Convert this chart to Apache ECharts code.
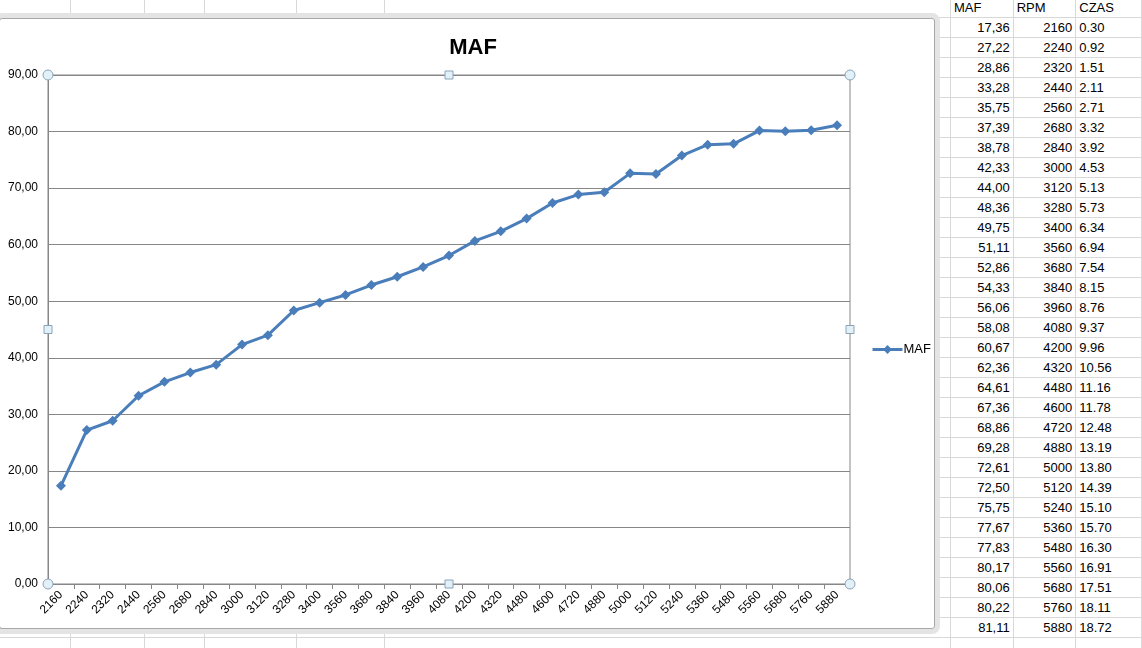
<!DOCTYPE html>
<html>
<head>
<meta charset="utf-8">
<script src="https://cdn.jsdelivr.net/npm/echarts@6/dist/echarts.min.js"></script>
<style>
  html, body { margin: 0; padding: 0; background: #fff; }
  #page { position: relative; width: 1142px; height: 648px; overflow: hidden;
    font-family: "Liberation Sans", Arial, sans-serif;
    background-image:
      repeating-linear-gradient(to bottom, transparent 0, transparent 17px, #d8d8d8 17px, #d8d8d8 18px, transparent 18px, transparent 20px);
    background-position: 0 0;
  }
  .vline { position: absolute; top: 0; width: 1px; height: 648px; background: #d8d8d8; }
  #frame { position: absolute; left: -6px; top: 13px; width: 946px; height: 621px;
    box-sizing: border-box; border: 5px solid #e4e4e4; border-radius: 8px;
    box-shadow: inset 0 0 0 1px #a8a8a8; background: #fff; }
  #chart { position: absolute; left: 0; top: 0; width: 1142px; height: 648px; }
  #sheet { position: absolute; left: 950px; top: -3px; border-collapse: collapse; font-size: 13px; color: #000; }
  #sheet td { height: 19px; padding: 0 3px; border: 1px solid #d8d8d8; white-space: nowrap; }
  #sheet td.n { text-align: right; }
  #sheet td.c1 { width: 57px; }
  #sheet td.c2 { width: 57px; }
  #sheet td.c3 { width: 60px; }
</style>
</head>
<body>
<div id="page">
  <div class="vline" style="left:70px"></div>
  <div class="vline" style="left:144px"></div>
  <div class="vline" style="left:204px"></div>
  <div class="vline" style="left:296px"></div>
  <div class="vline" style="left:384px"></div>
  <div class="vline" style="left:950px"></div>
  <div id="frame"></div>
  <table id="sheet"></table>
  <div id="chart"></div>
</div>
<script>
// dane z arkusza
var maf = [17.36, 27.22, 28.86, 33.28, 35.75, 37.39, 38.78, 42.33, 44.00, 48.36,
  49.75, 51.11, 52.86, 54.33, 56.06, 58.08, 60.67, 62.36, 64.61, 67.36,
  68.86, 69.28, 72.61, 72.50, 75.75, 77.67, 77.83, 80.17, 80.06, 80.22, 81.11];
var rpm = ['2160', '2240', '2320', '2440', '2560', '2680', '2840', '3000', '3120', '3280',
  '3400', '3560', '3680', '3840', '3960', '4080', '4200', '4320', '4480', '4600',
  '4720', '4880', '5000', '5120', '5240', '5360', '5480', '5560', '5680', '5760', '5880'];
var czas = ['0.30', '0.92', '1.51', '2.11', '2.71', '3.32', '3.92', '4.53', '5.13', '5.73',
  '6.34', '6.94', '7.54', '8.15', '8.76', '9.37', '9.96', '10.56', '11.16', '11.78',
  '12.48', '13.19', '13.80', '14.39', '15.10', '15.70', '16.30', '16.91', '17.51', '18.11', '18.72'];
var headers = ['MAF', 'RPM', 'CZAS'];

function fmt(v) {
  return v.toFixed(2).replace('.', ',');
}

// tabela po prawej
var html = '<tr><td class="c1">' + headers[0] + '</td><td class="c2">' + headers[1] +
  '</td><td class="c3">' + headers[2] + '</td></tr>';
for (var i = 0; i < maf.length; i++) {
  html += '<tr><td class="n c1">' + fmt(maf[i]) + '</td><td class="n c2">' + rpm[i] +
    '</td><td class="c3">' + czas[i] + '</td></tr>';
}
html += '<tr><td class="c1">&nbsp;</td><td class="c2"></td><td class="c3"></td></tr>';
document.getElementById('sheet').innerHTML = html;

// wykres
var gLeft = 48, gTop = 75, gRight = 850, gBottom = 584;
var myChart = echarts.init(document.getElementById('chart'));
var option = {
  animation: false,
  textStyle: { fontFamily: '"Liberation Sans", Arial, sans-serif' },
  title: {
    text: 'MAF',
    left: 468,
    textAlign: 'center',
    top: 32,
    textStyle: { fontSize: 22, fontWeight: 'bold', color: '#000' }
  },
  legend: {
    left: 866,
    top: 338,
    itemWidth: 30,
    itemHeight: 11,
    lineStyle: { width: 3 },
    textStyle: { fontSize: 13, color: '#000', padding: [0, 0, 0, -4] },
    data: ['MAF']
  },
  grid: {
    left: gLeft, top: gTop, right: 1142 - gRight, bottom: 648 - gBottom,
    show: true, borderColor: '#878787', borderWidth: 1,
    containLabel: false
  },
  xAxis: {
    type: 'category',
    data: rpm,
    boundaryGap: true,
    axisLine: { lineStyle: { color: '#878787', width: 1 } },
    axisTick: { show: true, interval: 0, length: 5, lineStyle: { color: '#878787' } },
    axisLabel: { interval: 0, rotate: 45, fontSize: 12, color: '#000', margin: 9 }
  },
  yAxis: {
    type: 'value',
    min: 0,
    max: 90,
    interval: 10,
    axisLine: { show: true, lineStyle: { color: '#878787', width: 1 } },
    axisTick: { show: false },
    splitLine: { lineStyle: { color: '#878787', width: 1 } },
    axisLabel: { fontSize: 12, color: '#000', margin: 10, formatter: function (v) { return fmt(v); } }
  },
  series: [{
    name: 'MAF',
    type: 'line',
    data: maf,
    symbol: 'diamond',
    symbolSize: 10,
    lineStyle: { color: '#4a7ebb', width: 3 },
    itemStyle: { color: '#4a7ebb' }
  }]
};
myChart.setOption(option);

// uchwyty zaznaczenia obszaru kreslenia
var midX = (gLeft + gRight) / 2, midY = (gTop + gBottom) / 2;
var handles = [];
[[gLeft, gTop], [gRight, gTop], [gLeft, gBottom], [gRight, gBottom]].forEach(function (p) {
  handles.push({ type: 'circle', shape: { cx: p[0], cy: p[1], r: 5 },
    style: { fill: '#e2f1f8', stroke: '#8aa3b8', lineWidth: 1 }, z: 100 });
});
[[midX, gTop], [midX, gBottom], [gLeft, midY], [gRight, midY]].forEach(function (p) {
  handles.push({ type: 'rect', shape: { x: p[0] - 4, y: p[1] - 4, width: 8, height: 8 },
    style: { fill: '#e2f1f8', stroke: '#8aa3b8', lineWidth: 1 }, z: 100 });
});
myChart.setOption({ graphic: handles });
</script>
</body>
</html>
